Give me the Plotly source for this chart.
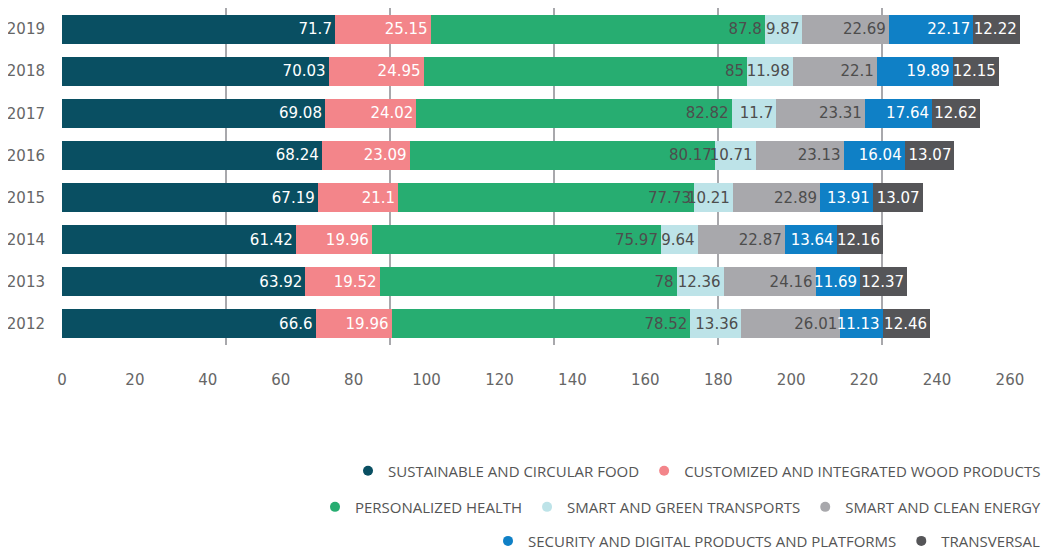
import plotly.graph_objects as go

years = ["2012", "2013", "2014", "2015", "2016", "2017", "2018", "2019"]
series_names = [
    "SUSTAINABLE AND CIRCULAR FOOD",
    "CUSTOMIZED AND INTEGRATED WOOD PRODUCTS",
    "PERSONALIZED HEALTH",
    "SMART AND GREEN TRANSPORTS",
    "SMART AND CLEAN ENERGY",
    "SECURITY AND DIGITAL PRODUCTS AND PLATFORMS",
    "TRANSVERSAL",
]
food = [66.6, 63.92, 61.42, 67.19, 68.24, 69.08, 70.03, 71.7]
wood = [19.96, 19.52, 19.96, 21.1, 23.09, 24.02, 24.95, 25.15]
health = [78.52, 78, 75.97, 77.73, 80.17, 82.82, 85, 87.8]
transports = [13.36, 12.36, 9.64, 10.21, 10.71, 11.7, 11.98, 9.87]
energy = [26.01, 24.16, 22.87, 22.89, 23.13, 23.31, 22.1, 22.69]
digital = [11.13, 11.69, 13.64, 13.91, 16.04, 17.64, 19.89, 22.17]
transversal = [12.46, 12.37, 12.16, 13.07, 13.07, 12.62, 12.15, 12.22]
series_values = [food, wood, health, transports, energy, digital, transversal]

tick_labels = list(range(0, 261, 20))

colors = ["#094f62", "#f3858a", "#27ad71", "#bde3e8", "#a8a8ac", "#0f80c6", "#555558"]
text_colors = ["white", "white", "#4d4d4d", "#4d4d4d", "#4d4d4d", "white", "white"]
legend_groups = ["legend", "legend", "legend2", "legend2", "legend2", "legend3", "legend3"]

bar_max = 258.5
label_max = 269.9

num_font = "DejaVu Sans, sans-serif"

fig = go.Figure()
for name, vals, col, tcol in zip(series_names, series_values, colors, text_colors):
    fig.add_trace(go.Bar(
        y=years, x=vals, name=name, orientation="h",
        marker=dict(color=col, line=dict(width=0)),
        text=[f"{v:g}" for v in vals],
        textposition="inside", insidetextanchor="end",
        textfont=dict(color=tcol, size=15, family=num_font),
        showlegend=False, cliponaxis=False,
    ))

for name, col, lg in zip(series_names, colors, legend_groups):
    fig.add_trace(go.Scatter(
        x=[None], y=[None], mode="markers", name=name,
        marker=dict(color=col, size=10, symbol="circle"),
        legend=lg, showlegend=True,
    ))

fig.add_trace(go.Scatter(x=[None], y=[None], xaxis="x2", showlegend=False))

grid_vals = [bar_max / 6 * i for i in range(1, 7)]

legend_common = dict(
    orientation="h", xanchor="right", x=1.0, yanchor="middle",
    font=dict(family="Open Sans, sans-serif", size=15, color="#555"),
    bgcolor="rgba(0,0,0,0)", itemwidth=30, tracegroupgap=0, traceorder="normal",
)

fig.update_layout(
    barmode="stack",
    bargap=0.31,
    width=1042, height=544,
    margin=dict(l=54, r=4, t=0, b=207, pad=0, autoexpand=False),
    plot_bgcolor="white", paper_bgcolor="white",
    font=dict(family=num_font, color="#666"),
    uniformtext=dict(minsize=15, mode="show"),
    xaxis=dict(range=[0, bar_max], tickmode="array", tickvals=grid_vals,
               showticklabels=False, showgrid=True, gridcolor="#a8a8ac", gridwidth=2,
               zeroline=False, showline=False, ticks="", automargin=False),
    xaxis2=dict(range=[0, label_max], overlaying="x", side="bottom", anchor="y",
                tickmode="array", tickvals=tick_labels, ticktext=[str(t) for t in tick_labels],
                showgrid=False, zeroline=False, showline=False, ticks="", automargin=False,
                ticklabelstandoff=24, tickfont=dict(size=15, color="#666", family=num_font)),
    yaxis=dict(categoryorder="array", categoryarray=years, showgrid=False, automargin=False,
               zeroline=False, showline=False, ticks="", ticklabelstandoff=16,
               tickfont=dict(size=15, color="#666", family=num_font)),
    legend=dict(**legend_common, y=-0.374),
    legend2=dict(**legend_common, y=-0.481),
    legend3=dict(**legend_common, y=-0.582),
)

fig.write_html("out.html")
